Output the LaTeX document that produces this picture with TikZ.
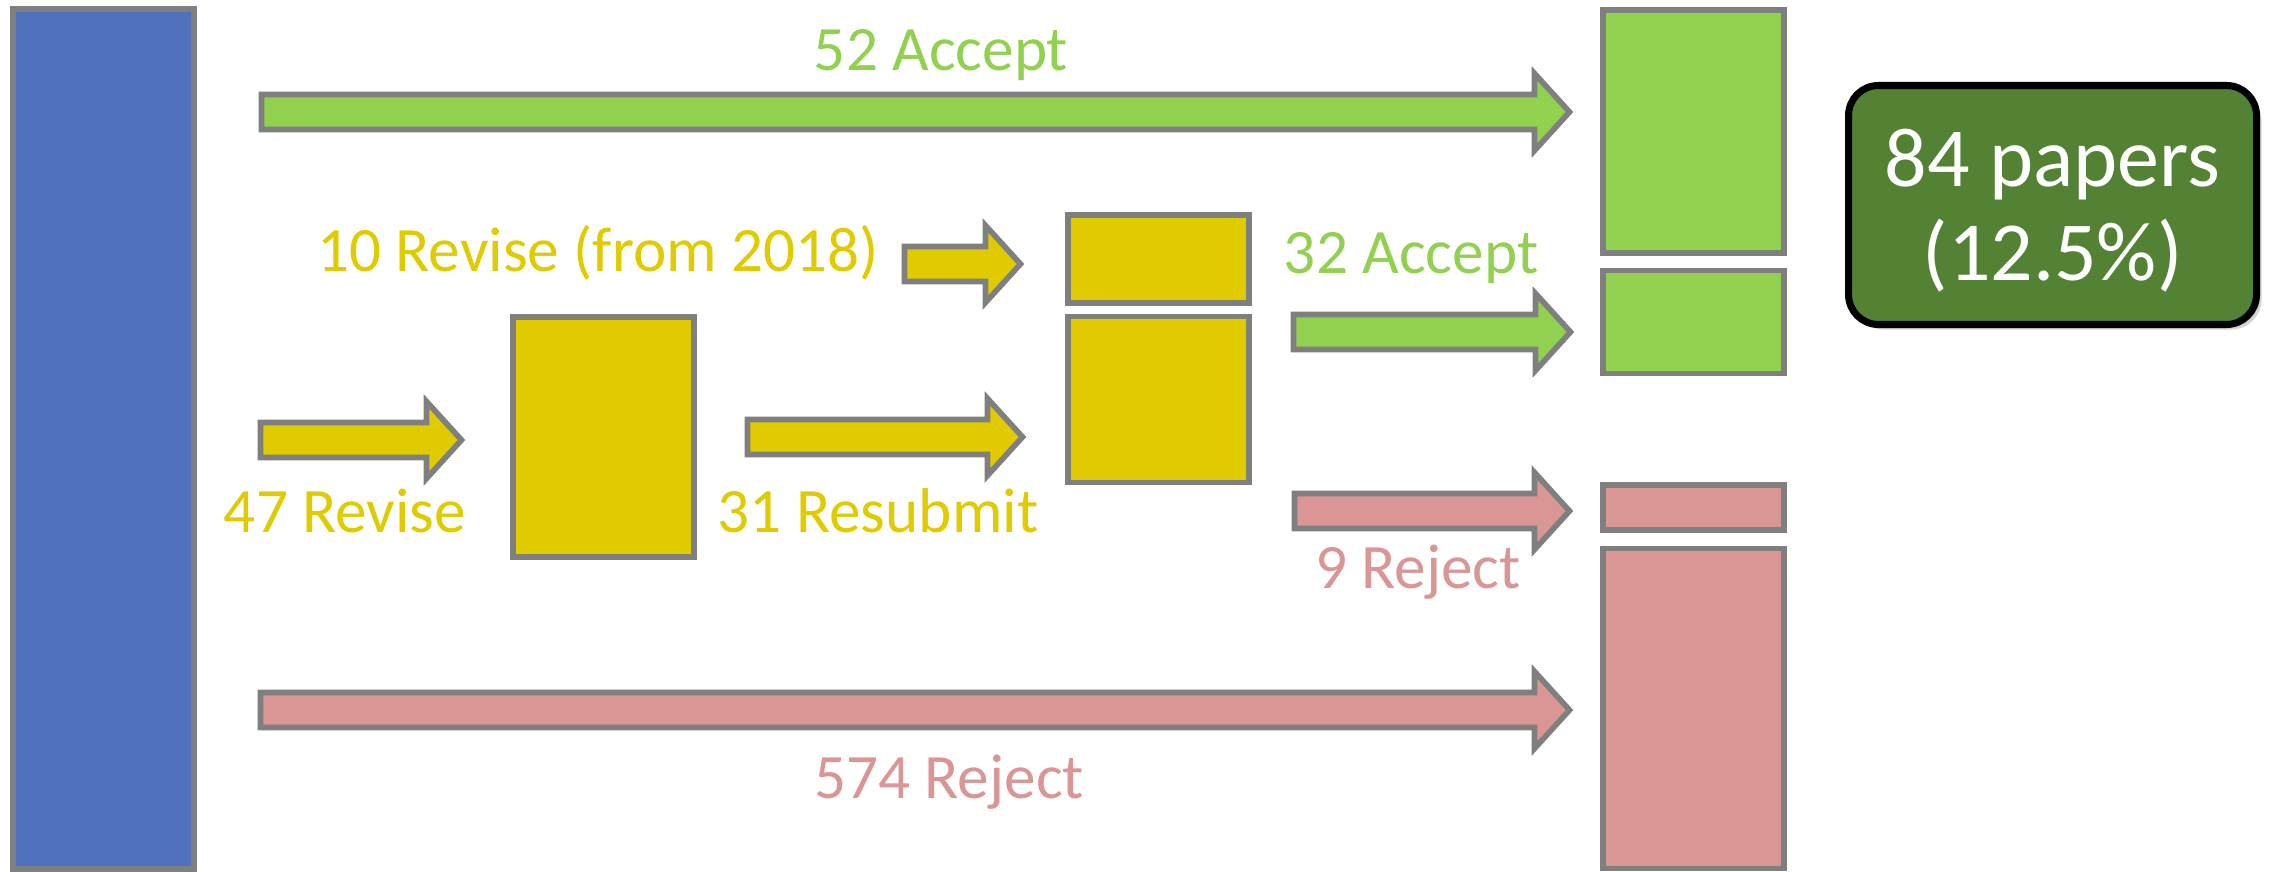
\documentclass[tikz,border=0pt]{standalone}
\usepackage{fontspec}
\setmainfont{Carlito}
\usepackage{xcolor}
\usetikzlibrary{positioning, calc, shadows}

\definecolor{subblue}{HTML}{4E72BE}
\definecolor{accgreen}{HTML}{92D050}
\definecolor{revyellow}{HTML}{DFCB00}
\definecolor{rejpink}{HTML}{D99694}
\definecolor{edgegray}{HTML}{7F7F7F}
\definecolor{darkgreen}{HTML}{548235}

\tikzset{
    stage/.style={draw=edgegray, line width=1.6pt, minimum width=1.81cm, inner sep=0pt, anchor=north west},
    flow/.style={draw=edgegray, line width=1.6pt, line join=miter},
    count/.style={anchor=base, inner sep=0pt, font=\fontsize{18}{20}\selectfont},
}

% block arrow from a tail coordinate to a tip coordinate (same height)
\newcommand{\blockarrow}[3]{%
    \draw[flow, fill=#1] ($(#2)+(0,0.175)$) -- ($(#3)+(-0.35,0.175)$) -- ($(#3)+(-0.35,0.385)$)
        -- (#3) -- ($(#3)+(-0.35,-0.385)$) -- ($(#3)+(-0.35,-0.175)$) -- ($(#2)+(0,-0.175)$) -- cycle;}

\begin{document}
\begin{tikzpicture}
        \useasboundingbox (0,0) rectangle (22.78,-8.72);

        % submissions
        \node[stage, fill=subblue, minimum height=8.60cm] (all) at (0.10,-0.06) {};

        % revise rounds
        \node[stage, fill=revyellow, minimum height=2.40cm] (rev) at (5.10,-3.14) {};
        \node[stage, fill=revyellow, minimum height=0.88cm] (old) at (10.65,-2.12) {};
        \node[stage, fill=revyellow, minimum height=1.66cm, below=0.08cm of old] (resub) {};

        % outcomes
        \node[stage, fill=accgreen, minimum height=2.43cm] (acc) at (16.00,-0.07) {};
        \node[stage, fill=accgreen, minimum height=1.03cm, below=0.12cm of acc] (acclate) {};
        \node[stage, fill=rejpink, minimum height=0.45cm] (rejlate) at (16.00,-4.82) {};
        \node[stage, fill=rejpink, minimum height=3.20cm, below=0.13cm of rejlate] (rej) {};

        \node[draw=black, line width=2pt, fill=darkgreen, rounded corners=0.3cm,
              minimum width=4.08cm, minimum height=2.39cm,
              drop shadow={opacity=0.35, shadow xshift=0.05cm, shadow yshift=-0.05cm}]
              (total) at (20.525,-2.05) {};
        \node[align=center, text=white, font=\fontsize{23.9}{26.7}\selectfont]
              (share) at ([yshift=-0.06cm]total.center) {84 papers\\(12.5\%)};

        \coordinate (acc52-tail) at (2.615,-1.12);
        \coordinate (acc52-tip) at (15.695,-1.12);
        \coordinate (rev18-tail) at (9.045,-2.64);
        \coordinate (rev18-tip) at (10.205,-2.64);
        \coordinate (acc32-tail) at (12.935,-3.32);
        \coordinate (acc32-tip) at (15.705,-3.32);
        \coordinate (rev47-tail) at (2.605,-4.40);
        \coordinate (rev47-tip) at (4.615,-4.40);
        \coordinate (res31-tail) at (7.475,-4.37);
        \coordinate (res31-tip) at (10.225,-4.37);
        \coordinate (rej9-tail) at (12.945,-5.11);
        \coordinate (rej9-tip) at (15.695,-5.11);
        \coordinate (rej574-tail) at (2.605,-7.10);
        \coordinate (rej574-tip) at (15.695,-7.10);

        \blockarrow{accgreen}{acc52-tail}{acc52-tip}
        \blockarrow{revyellow}{rev18-tail}{rev18-tip}
        \blockarrow{accgreen}{acc32-tail}{acc32-tip}
        \blockarrow{revyellow}{rev47-tail}{rev47-tip}
        \blockarrow{revyellow}{res31-tail}{res31-tip}
        \blockarrow{rejpink}{rej9-tail}{rej9-tip}
        \blockarrow{rejpink}{rej574-tail}{rej574-tip}

        \node[count, text=accgreen] (l52) at (9.41,-0.71) {52 Accept};
        \node[count, text=revyellow] (l10) at (5.98,-2.71) {10 Revise (from 2018)};
        \node[count, text=accgreen] (l32) at (14.11,-2.73) {32 Accept};
        \node[count, text=revyellow] (l47) at (3.45,-5.32) {47 Revise};
        \node[count, text=revyellow] (l31) at (8.78,-5.32) {31 Resubmit};
        \node[count, text=rejpink] (l9) at (14.18,-5.88) {9 Reject};
        \node[count, text=rejpink] (l574) at (9.49,-7.98) {574 Reject};
    \end{tikzpicture}
\end{document}
